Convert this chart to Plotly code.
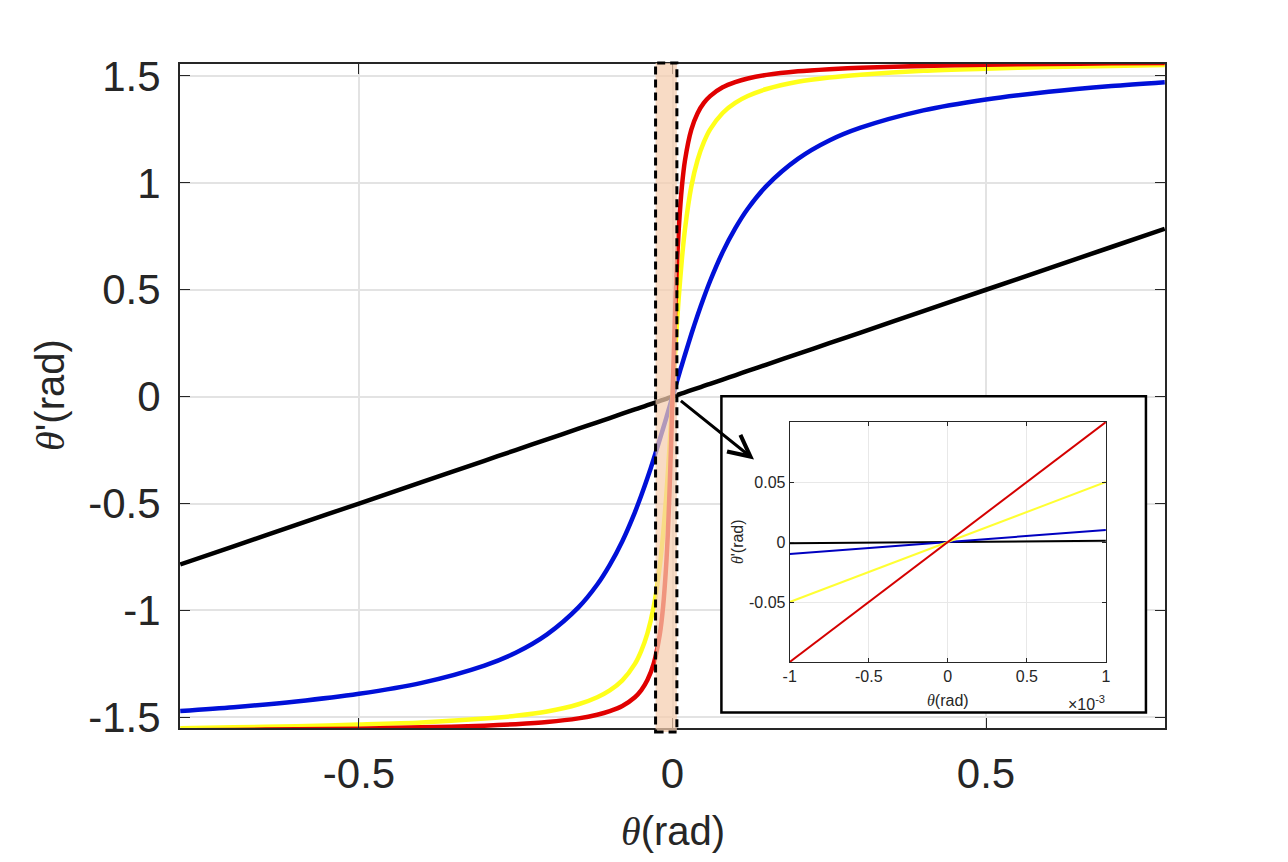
import plotly.graph_objects as go

# ---- main panel: theta vs theta' ----
theta = [-0.785, -0.7, -0.6, -0.5, -0.4, -0.3, -0.25, -0.2, -0.15, -0.12, -0.1,
         -0.08, -0.06, -0.05, -0.04, -0.03, -0.02, -0.015, -0.01, -0.0075, -0.005,
         -0.0025, 0.0, 0.0025, 0.005, 0.0075, 0.01, 0.015, 0.02, 0.03, 0.04, 0.05,
         0.06, 0.08, 0.1, 0.12, 0.15, 0.2, 0.25, 0.3, 0.4, 0.5, 0.6, 0.7, 0.785]

black_main = [-0.785, -0.7, -0.6, -0.5, -0.4, -0.3, -0.25, -0.2, -0.15, -0.12, -0.1,
              -0.08, -0.06, -0.05, -0.04, -0.03, -0.02, -0.015, -0.01, -0.0075, -0.005,
              -0.0025, 0.0, 0.0025, 0.005, 0.0075, 0.01, 0.015, 0.02, 0.03, 0.04, 0.05,
              0.06, 0.08, 0.1, 0.12, 0.15, 0.2, 0.25, 0.3, 0.4, 0.5, 0.6, 0.7, 0.785]

blue_main = [-1.471, -1.453, -1.426, -1.390, -1.339, -1.258, -1.198, -1.112, -0.986,
             -0.879, -0.787, -0.676, -0.541, -0.464, -0.381, -0.292, -0.197, -0.149,
             -0.100, -0.075, -0.050, -0.025, 0.0, 0.025, 0.050, 0.075, 0.100, 0.149,
             0.197, 0.292, 0.381, 0.464, 0.541, 0.676, 0.787, 0.879, 0.986, 1.112,
             1.198, 1.258, 1.339, 1.390, 1.426, 1.453, 1.471]

yellow_main = [-1.551, -1.547, -1.542, -1.534, -1.524, -1.506, -1.493, -1.473, -1.439,
               -1.406, -1.374, -1.327, -1.250, -1.190, -1.107, -0.983, -0.786, -0.644,
               -0.464, -0.359, -0.245, -0.124, 0.0, 0.124, 0.245, 0.359, 0.464, 0.644,
               0.786, 0.983, 1.107, 1.190, 1.250, 1.327, 1.374, 1.406, 1.439, 1.473,
               1.493, 1.506, 1.524, 1.534, 1.542, 1.547, 1.551]

red_main = [-1.561, -1.559, -1.556, -1.553, -1.547, -1.539, -1.532, -1.522, -1.505,
            -1.488, -1.471, -1.447, -1.406, -1.374, -1.326, -1.249, -1.107, -0.983,
            -0.785, -0.644, -0.464, -0.245, 0.0, 0.245, 0.464, 0.644, 0.785, 0.983,
            1.107, 1.249, 1.326, 1.374, 1.406, 1.447, 1.471, 1.488, 1.505, 1.522,
            1.532, 1.539, 1.547, 1.553, 1.556, 1.559, 1.561]

main_ticks_x = [-0.5, 0, 0.5]
main_ticks_y = [-1.5, -1, -0.5, 0, 0.5, 1, 1.5]

# ---- inset: zoom around the origin ----
theta_in = [-0.001, 0.001]
black_in = [-0.001, 0.001]
blue_in = [-0.01, 0.01]
yellow_in = [-0.05, 0.05]
red_in = [-0.1, 0.1]
inset_tickvals_x = [-0.001, -0.0005, 0, 0.0005, 0.001]
inset_ticktext_x = ["-1", "-0.5", "0", "0.5", "1"]
inset_tickvals_y = [-0.05, 0, 0.05]
inset_ticktext_y = ["-0.05", "0", "0.05"]

RED = "#e00000"
YELLOW = "#ffff1a"
BLUE = "#0010d8"
FONT = "Liberation Sans, Arial, sans-serif"
SERIF = "Liberation Serif, Times New Roman, serif"

fig = go.Figure()

for ys, col in [(black_main, "black"), (blue_main, BLUE),
                (yellow_main, YELLOW), (red_main, RED)]:
    fig.add_trace(go.Scatter(x=theta, y=ys, mode="lines",
                             line=dict(color=col, width=4.5, shape="spline", smoothing=0.8),
                             xaxis="x", yaxis="y", showlegend=False, hoverinfo="skip"))

for ys, col in [(black_in, "black"), (blue_in, "#0000c0"),
                (yellow_in, "#ffff33"), (red_in, "#d40000")]:
    fig.add_trace(go.Scatter(x=theta_in, y=ys, mode="lines",
                             line=dict(color=col, width=2),
                             xaxis="x2", yaxis="y2", showlegend=False, hoverinfo="skip"))

axis_common = dict(showline=True, linecolor="#262626", mirror="ticks", ticks="inside",
                   tickcolor="#262626", showgrid=True, gridcolor="#e3e3e3",
                   zeroline=False)

# page body adds an 8px margin, so the figure is 16px smaller than the window
fig.update_layout(
    width=1272, height=846,
    margin=dict(l=172, r=115, t=56, b=126),
    paper_bgcolor="white", plot_bgcolor="white",
    font=dict(family=FONT, color="#262626"),
    xaxis=dict(axis_common, range=[-0.7854, 0.7854], tickvals=main_ticks_x,
               ticktext=["-0.5", "0", "0.5"], ticklen=10, linewidth=2, gridwidth=1.5,
               tickfont=dict(size=42), ticklabelstandoff=8),
    yaxis=dict(axis_common, range=[-1.55, 1.556], tickvals=main_ticks_y,
               ticktext=["-1.5", "-1", "-0.5", "0", "0.5", "1", "1.5"], ticklen=10,
               linewidth=2, gridwidth=1.5, tickfont=dict(size=42), ticklabelstandoff=9),
    xaxis2=dict(axis_common, domain=[0.619, 0.940], anchor="y2",
                range=[-0.001, 0.001], tickvals=inset_tickvals_x,
                ticktext=inset_ticktext_x, ticklen=4, linewidth=1, gridcolor="#e8e8e8",
                tickfont=dict(size=16)),
    yaxis2=dict(axis_common, domain=[0.0994, 0.4608], anchor="x2",
                range=[-0.1, 0.1], tickvals=inset_tickvals_y,
                ticktext=inset_ticktext_y, ticklen=4, linewidth=1, gridcolor="#e8e8e8",
                tickfont=dict(size=16)),
)

# white frame behind the inset (hides main gridlines)
fig.add_shape(type="rect", xref="x", yref="y", x0=0.078, x1=0.755,
              y0=-1.478, y1=0.002, fillcolor="white", layer="between",
              line=dict(color="black", width=2.5))

# highlighted strip around the origin
fig.add_shape(type="rect", xref="x", yref="paper", x0=-0.027, x1=0.007,
              y0=-0.006, y1=1.0015, fillcolor="rgba(245,205,175,0.72)",
              layer="above", line=dict(color="black", width=3, dash="8px,5px"))

# arrow to the inset
fig.add_annotation(x=0.13, y=-0.294, ax=0.011, ay=-0.014, xref="x", yref="y",
                   axref="x", ayref="y", text="", showarrow=True, arrowhead=5,
                   arrowsize=1.4, arrowwidth=3, arrowcolor="black")

# axis titles
fig.add_annotation(xref="paper", yref="paper", x=0.5005, y=-0.1566, showarrow=False,
                   text=f"<span style='font-family:{SERIF}'><i>θ</i></span>(rad)",
                   font=dict(size=40, color="#262626"), xanchor="center", yanchor="middle")
fig.add_annotation(xref="paper", yref="paper", x=-0.132, y=0.5015, showarrow=False,
                   text=f"<span style='font-family:{SERIF}'><i>θ</i></span>'(rad)",
                   font=dict(size=40, color="#262626"), textangle=-90,
                   xanchor="center", yanchor="middle")
fig.add_annotation(xref="paper", yref="paper", x=0.7797, y=0.0407, showarrow=False,
                   text=f"<span style='font-family:{SERIF}'><i>θ</i></span>(rad)",
                   font=dict(size=16, color="#262626"), xanchor="center", yanchor="middle")
fig.add_annotation(xref="paper", yref="paper", x=0.5655, y=0.280, showarrow=False,
                   text=f"<span style='font-family:{SERIF}'><i>θ</i></span>'(rad)",
                   font=dict(size=16, color="#262626"), textangle=-90,
                   xanchor="center", yanchor="middle")
fig.add_annotation(xref="paper", yref="paper", x=0.941, y=0.0377, showarrow=False,
                   text="×10<sup>-3</sup>", font=dict(size=16, color="#262626"),
                   xanchor="right", yanchor="middle")

fig.write_html("out.html")
